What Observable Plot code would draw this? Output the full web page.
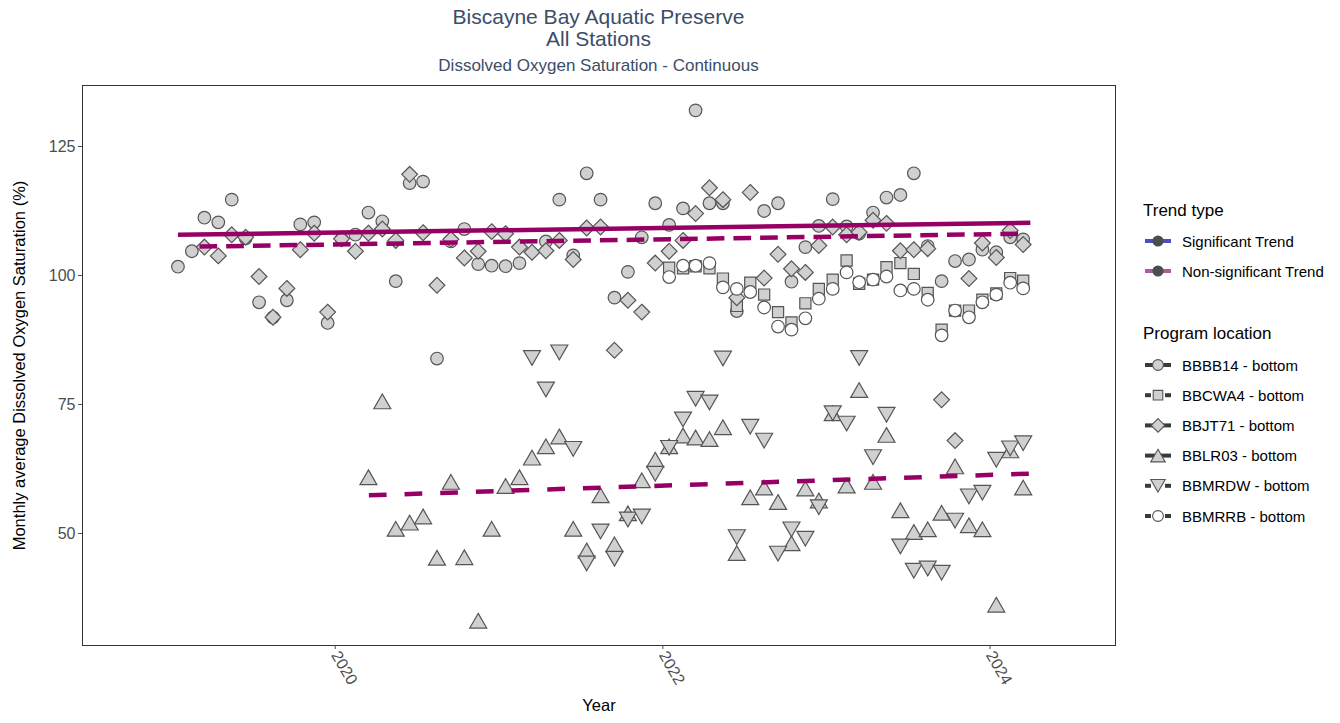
<!DOCTYPE html>
<html><head><meta charset="utf-8">
<script src="https://cdn.jsdelivr.net/npm/d3@7"></script>
<script src="https://cdn.jsdelivr.net/npm/@observablehq/plot@0.6"></script>
<style>
body{margin:0;background:#fff;}
#wrap{position:relative;width:1340px;height:723px;font-family:"Liberation Sans",Arial,sans-serif;overflow:hidden;background:#fff}
.t{position:absolute;left:82px;width:1033px;text-align:center;color:#3b4d68;white-space:nowrap}
#chart{position:absolute;left:0;top:80px}
#legend{position:absolute;left:1135px;top:190px}
</style></head><body>
<div id="wrap">
<div class="t" style="top:5px;font-size:21px;line-height:24px">Biscayne Bay Aquatic Preserve</div>
<div class="t" style="top:27px;font-size:21px;line-height:24px">All Stations</div>
<div class="t" style="top:56px;font-size:17px;line-height:20px">Dissolved Oxygen Saturation - Continuous</div>
<div id="chart"></div>
<div id="legend"></div>
</div>
<script>
// ---------- data ----------
const stations = ["BBBB14", "BBCWA4", "BBJT71", "BBLR03", "BBMRDW", "BBMRRB"];
const stationLabels = ["BBBB14 - bottom", "BBCWA4 - bottom", "BBJT71 - bottom", "BBLR03 - bottom", "BBMRDW - bottom", "BBMRRB - bottom"];
// first month of each station's monthly series (values are mid-month)
const startMonths = ["2019-01", "2022-01", "2019-03", "2020-03", "2021-03", "2022-01"];

const bbbb14 = [101.7,104.7,111.2,110.3,114.7,107.2,94.8,91.9,95.2,109.9,110.3,90.8,
  107.1,107.9,112.2,110.5,98.9,117.9,118.2,83.9,106.6,109.0,102.2,101.9,
  101.8,102.4,null,106.6,114.7,103.9,119.8,114.7,95.7,100.7,107.4,114.0,
  109.8,113.0,132.0,114.0,114.0,93.1,null,112.5,114.0,98.8,105.5,109.6,
  114.8,109.5,108.1,112.2,115.1,115.6,119.8,105.7,98.9,102.8,103.1,105.0,
  104.5,107.4,107.0];
const bbcwa4 = [101.5,101.4,101.8,101.4,99.4,94.1,98.6,96.3,92.9,90.9,94.6,97.4,
  99.2,102.9,98.4,99.2,101.6,102.4,100.3,96.6,89.5,93.2,93.2,95.3,
  96.5,99.5,99.0];
const bbjt71 = [105.5,103.8,107.9,107.4,99.8,91.9,97.5,105.0,108.2,92.9,
  107.1,104.7,108.2,109.0,106.8,119.6,108.3,98.1,107.0,103.4,104.7,108.5,
  108.1,105.5,104.5,104.8,106.8,103.1,109.2,109.4,85.5,95.2,92.9,102.4,
  104.7,106.8,112.0,117.0,114.7,95.7,116.1,99.5,104.1,101.3,100.6,105.8,
  109.4,107.9,108.4,110.7,110.1,104.8,105.0,105.2,75.9,68.0,99.4,106.3,
  103.5,108.7,106.0];
const bblr03 = [60.9,75.6,50.9,52.1,53.3,45.3,60.0,45.4,33.1,50.9,
  59.2,60.9,64.7,66.9,68.8,50.9,46.7,57.4,47.9,53.9,60.3,64.3,
  66.9,69.0,68.6,68.3,70.6,46.2,57.0,58.9,56.1,48.1,58.7,56.4,
  73.3,59.3,77.8,60.0,69.1,54.5,50.3,50.8,54.0,63.0,51.6,50.8,
  36.2,66.1,58.9];
const bbmrdw = [84.0,77.9,85.1,66.4,44.2,50.4,45.1,52.7,53.3,61.6,
  66.6,72.1,76.1,75.4,83.9,49.3,70.7,68.0,46.1,50.8,49.0,55.1,
  73.3,71.3,84.0,64.8,73.0,47.5,42.8,43.2,42.4,52.5,57.2,57.9,
  64.3,66.5,67.5];
const bbmrrb = [99.7,101.9,101.9,102.4,97.7,97.4,96.8,93.8,90.1,89.5,91.7,95.5,
  97.4,100.6,98.7,99.2,99.8,97.1,97.4,95.3,88.4,93.2,91.9,94.8,
  96.3,98.6,97.5];

// trend lines (all non-significant)
const trendStations = ["BBBB14", "BBJT71", "BBLR03"];
const trendStartDates = ["2019-01-15", "2019-03-04", "2020-03-16"];
const trendEndDates = ["2024-03-31", "2024-03-11", "2024-03-31"];
const trendStartValues = [107.9, 105.6, 57.4];
const trendEndValues = [110.2, 108.1, 61.6];
const trendTypes = ["Significant Trend", "Non-significant Trend"];

const xTickLabels = ["2020", "2022", "2024"];
const yTicks = [50, 75, 100, 125];

// ---------- styling ----------
const FONT = "'Liberation Sans', Arial, sans-serif";
const trendColor = "#960065";
const pointStroke = "#555555";
const pointFill = "#d0d0d0";

const shapeCircle = {draw(c, size) { const R = Math.sqrt(size / Math.PI); c.moveTo(R, 0); c.arc(0, 0, R, 0, 2 * Math.PI); c.closePath(); }};
const shapeSquare = {draw(c, size) { const R = Math.sqrt(size / Math.PI) * 0.886; c.rect(-R, -R, 2 * R, 2 * R); }};
const shapeDiamond = {draw(c, size) { const d = Math.sqrt(size / Math.PI) * 1.253; c.moveTo(0, -d); c.lineTo(d, 0); c.lineTo(0, d); c.lineTo(-d, 0); c.closePath(); }};
const shapeUp = {draw(c, size) { const R = Math.sqrt(size / Math.PI); const h = 1.1665 * R, w = 1.347 * R; c.moveTo(0, -h); c.lineTo(w, h); c.lineTo(-w, h); c.closePath(); }};
const shapeDown = {draw(c, size) { const R = Math.sqrt(size / Math.PI); const h = 1.1665 * R, w = 1.347 * R; c.moveTo(0, h); c.lineTo(w, -h); c.lineTo(-w, -h); c.closePath(); }};

const seriesValues = [bbbb14, bbcwa4, bbjt71, bblr03, bbmrdw, bbmrrb];
const stationShapes = [shapeCircle, shapeSquare, shapeDiamond, shapeUp, shapeDown, shapeCircle];
const stationFills = [pointFill, pointFill, pointFill, pointFill, pointFill, "#ffffff"];
const trendDash = [null, "17.7,9", "17.7,18"];

function monthDate(start, i) {
  const [y, m] = start.split("-").map(Number);
  return new Date(Date.UTC(y, m - 1 + i, 15));
}

const points = [];
stations.forEach((s, k) => {
  seriesValues[k].forEach((v, i) => {
    if (v != null) points.push({station: s, date: monthDate(startMonths[k], i), value: v});
  });
});

const trends = trendStations.map((s, k) => [
  {station: s, date: new Date(trendStartDates[k]), value: trendStartValues[k]},
  {station: s, date: new Date(trendEndDates[k]), value: trendEndValues[k]}
]);

const R = 6.3;
const marks = [];
stations.forEach((s, k) => {
  marks.push(Plot.dot(points.filter(d => d.station === s), {
    x: "date", y: "value", r: R, symbol: stationShapes[k],
    fill: stationFills[k], stroke: pointStroke, strokeWidth: 1.2
  }));
});
trends.forEach((t, k) => {
  marks.push(Plot.line(t, {
    x: "date", y: "value", stroke: trendColor, strokeWidth: 4.5,
    strokeDasharray: trendDash[k] || undefined, strokeLinecap: "butt"
  }));
});

const chart = Plot.plot({
  width: 1340,
  height: 643,
  marginLeft: 82,
  marginRight: 225,
  marginTop: 5,
  marginBottom: 78,
  style: {fontFamily: FONT, background: "white", overflow: "visible"},
  x: {type: "utc", domain: [new Date("2018-06-16"), new Date("2024-10-07")]},
  y: {domain: [28.29, 136.82]},
  marks: [
    ...marks,
    Plot.frame({stroke: "#333333", strokeWidth: 1}),
    Plot.axisY(yTicks, {tickSize: 4, tickPadding: 3, fontSize: 16, color: "#4d4d4d", label: null}),
    Plot.axisX(xTickLabels.map(y => new Date(Date.UTC(+y, 0, 1))), {
      tickFormat: d3.utcFormat("%Y"), tickRotate: 60, tickSize: 4, tickPadding: 3,
      fontSize: 16, color: "#4d4d4d", label: null, textAnchor: "start"
    }),
    Plot.text(["Year"], {frameAnchor: "bottom", dy: 65, fontSize: 16.5, fill: "black", text: d => d}),
    Plot.text(["Monthly average Dissolved Oxygen Saturation (%)"], {
      frameAnchor: "left", dx: -63, rotate: -90, textAnchor: "middle", fontSize: 16.5, fill: "black", text: d => d
    })
  ]
});
document.getElementById("chart").appendChild(chart);

// ---------- legend ----------
const lg = d3.select("#legend").append("svg")
  .attr("width", 205).attr("height", 340)
  .style("font-family", FONT);

lg.append("text").attr("x", 8).attr("y", 20).attr("dominant-baseline", "central")
  .attr("font-size", 17).attr("fill", "black").text("Trend type");
const trendKeyColors = ["#3b3bbd", "#a8488f"];
trendTypes.forEach((t, i) => {
  const y = 51 + i * 30;
  lg.append("line").attr("x1", 10).attr("x2", 36).attr("y1", y).attr("y2", y)
    .attr("stroke", trendKeyColors[i]).attr("stroke-width", 4).attr("stroke-opacity", 0.9);
  lg.append("circle").attr("cx", 23).attr("cy", y).attr("r", 5.6).attr("fill", "#4d4d4d");
  lg.append("text").attr("x", 47).attr("y", y).attr("dominant-baseline", "central")
    .attr("font-size", 15).attr("fill", "black").text(t);
});

lg.append("text").attr("x", 8).attr("y", 143).attr("dominant-baseline", "central")
  .attr("font-size", 17).attr("fill", "black").text("Program location");
const keySolid = [true, false, true, true, false, false];
stationLabels.forEach((s, k) => {
  const y = 175 + k * 30.2;
  if (keySolid[k]) {
    lg.append("line").attr("x1", 10).attr("x2", 36).attr("y1", y).attr("y2", y)
      .attr("stroke", "#3a3a3a").attr("stroke-width", 4);
  } else {
    [[10, 16], [30, 36]].forEach(([a, b]) => lg.append("line").attr("x1", a).attr("x2", b)
      .attr("y1", y).attr("y2", y).attr("stroke", "#3a3a3a").attr("stroke-width", 4));
  }
  const rr = 5.4;
  lg.append("path").attr("transform", `translate(23,${y})`)
    .attr("d", d3.symbol().type(stationShapes[k]).size(Math.PI * rr * rr)())
    .attr("fill", stationFills[k]).attr("stroke", pointStroke).attr("stroke-width", 1.1);
  lg.append("text").attr("x", 47).attr("y", y).attr("dominant-baseline", "central")
    .attr("font-size", 15).attr("fill", "black").text(s);
});
</script>
</body></html>
